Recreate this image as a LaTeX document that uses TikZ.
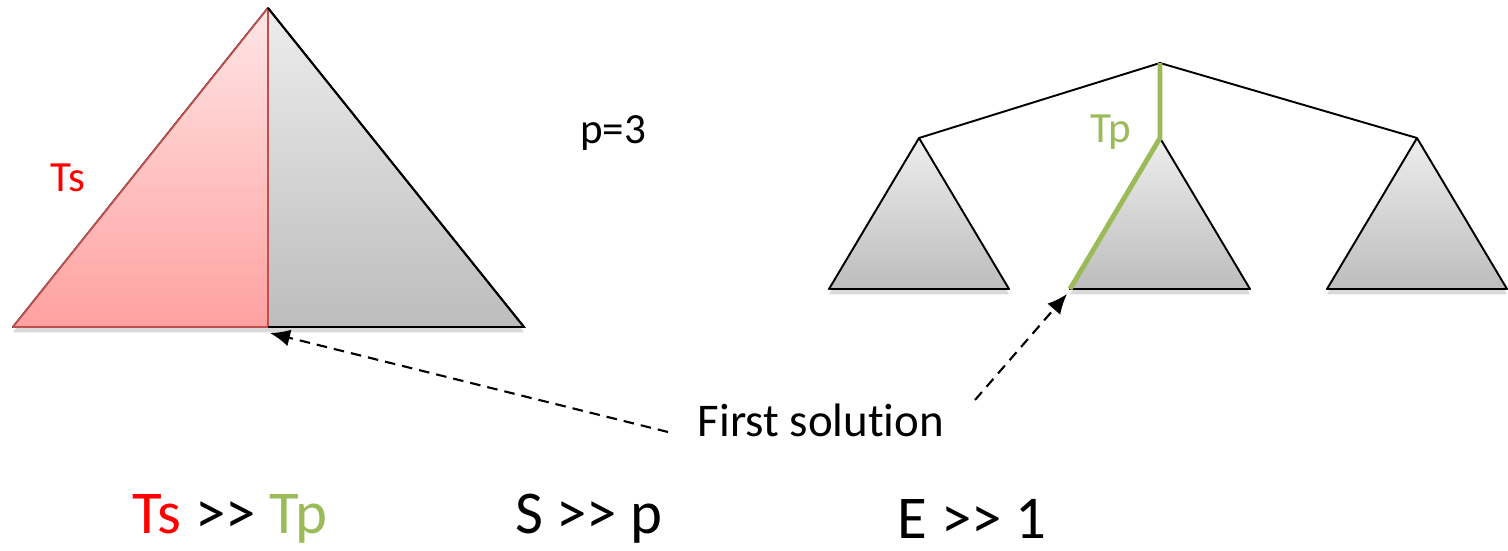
\documentclass[tikz,border=0pt]{standalone}
\usepackage{fontspec}
\setmainfont[Ligatures=NoCommon]{Carlito}
\usetikzlibrary{arrows.meta, shadows, calc}
\definecolor{tsred}{HTML}{FF0000}
\definecolor{tpgreen}{HTML}{9BBB59}
\definecolor{edgered}{HTML}{C0504D}

\tikzset{
  subtree/.style={draw=black, line width=1.1pt, line join=round,
    top color=black!7, bottom color=black!26,
    drop shadow={opacity=0.3, shadow xshift=0pt, shadow yshift=-3pt}},
  redpart/.style={draw=edgered, line width=1pt, line join=round,
    top color=tsred!10, bottom color=tsred!37},
  treeedge/.style={draw=black, line width=1.1pt},
  pathedge/.style={draw=tpgreen, line width=2.8pt},
  hint/.style={-{Latex[length=4mm, width=3.4mm]}, line width=1.2pt,
    dash pattern=on 6pt off 4pt},
  small/.style={font=\fontsize{24.5}{28}\selectfont},
  medium/.style={font=\fontsize{26.7}{30}\selectfont},
  large/.style={font=\fontsize{34.6}{40}\selectfont, inner sep=1pt}
}

\begin{document}
\begin{tikzpicture}[x=0.02cm, y=-0.02cm]
  \useasboundingbox (0,0) rectangle (1508,551);

  % sequential tree
  \coordinate (top) at (268,8);
  \coordinate (bl) at (13,327);
  \coordinate (bm) at (268,327);
  \coordinate (br) at (524,327);
  \path[subtree] (bl) -- (top) -- (br) -- cycle;
  \path[redpart] (bl) -- (top) -- (bm) -- cycle;
  \draw[line width=1.1pt] (bm) -- (br) -- (top);
  \node[small, text=tsred] (ts) at (68,178) {Ts};

  \node[small] (procs) at (613,133) {p=3};

  % parallel tree
  \coordinate (root) at (1160,63);
  \foreach \name/\x in {left/919, mid/1160, right/1417} {
    \coordinate (\name) at (\x,138);
    \coordinate (\name bl) at (\x-90,289);
    \coordinate (\name br) at (\x+90,289);
    \path[subtree] (\name bl) -- (\name) -- (\name br) -- cycle;
  }
  \draw[treeedge] (left) -- (root) -- (right);
  \draw[pathedge] (root) -- (mid) -- (midbl);
  \node[small, text=tpgreen] (tp) at (1111,132) {Tp};

  % first solution
  \node[medium] (fs) at (821,420) {First solution};
  \coordinate (fsl) at (668,432);
  \coordinate (fsr) at (975,400);
  \draw[hint] (fsl) -- ($(bm)+(2,6)$);
  \draw[hint] (fsr) -- ($(midbl)+(-3,5)$);

  % relations
  \node[large] (rel1) at (230,519) {\textcolor{tsred}{Ts} >{}> \textcolor{tpgreen}{Tp}};
  \node[large] (rel2) at (589,519) {S >{}> p};
  \node[large] (rel3) at (972,519) {E >{}> 1};
\end{tikzpicture}
\end{document}
